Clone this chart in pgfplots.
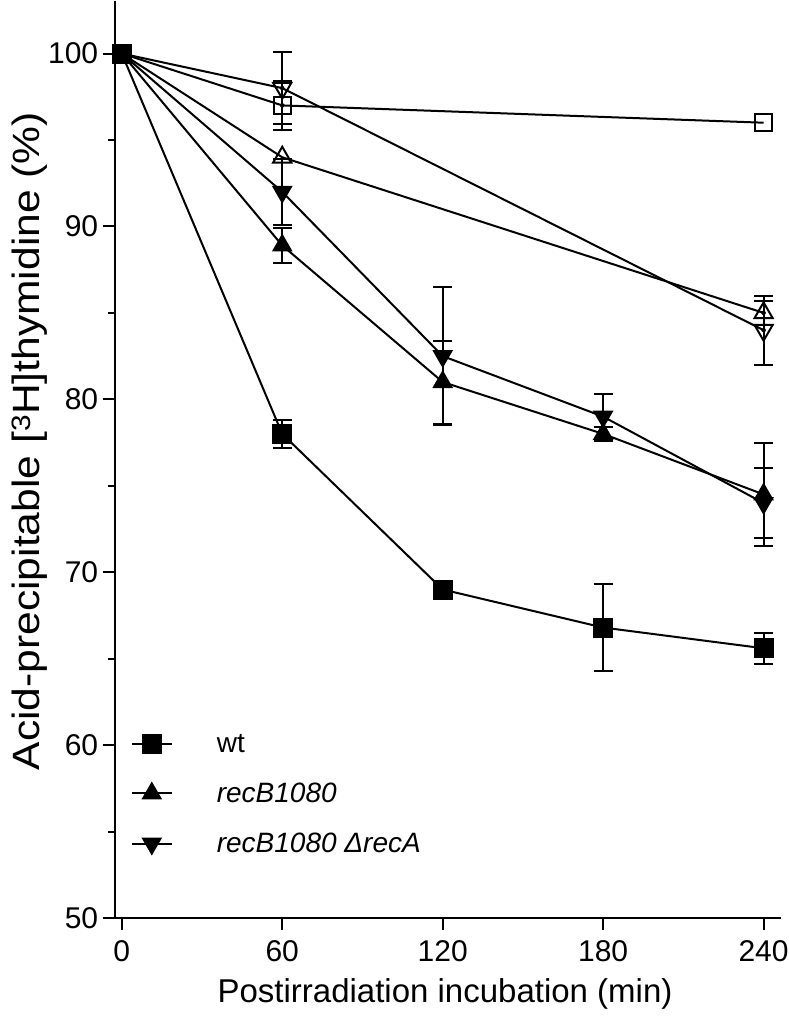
\documentclass[border=0pt]{standalone}
\usepackage{fontspec}
\setmainfont{Liberation Sans}
\usepackage{graphicx}
\usepackage{pgfplots}
\pgfplotsset{compat=1.18}
\usepackage{pgfplotstable}

\pgfplotstableread{
x y e
0 100 0
60 78 0.8
120 69 0.2
180 66.8 2.5
240 65.6 0.9
}\wt
\pgfplotstableread{
x y e
0 100 0
60 88.9 1.0
120 81 2.4
180 78 0.4
240 74.5 3.0
}\recB
\pgfplotstableread{
x y e
0 100 0
60 92 1.9
120 82.5 4.0
180 79 1.3
240 74.0 2.0
}\recBdA
\pgfplotstableread{
x y e
0 100 0
60 97 1.4
240 96 0
}\opensq
\pgfplotstableread{
x y e
0 100 0
60 94 0.5
240 85 0.7
}\openup
\pgfplotstableread{
x y e
0 100 0
60 98 2.1
240 84.0 2.0
}\opendown
% error-only tables (points with a visible error bar)
\pgfplotstableread{
x y e
60 78 0.8
180 66.8 2.5
240 65.6 0.9
}\wtE
\pgfplotstableread{
x y e
60 88.9 1.0
120 81 2.4
180 78 0.4
240 74.5 3.0
}\recBE
\pgfplotstableread{
x y e
60 92 1.9
120 82.5 4.0
180 79 1.3
240 74.0 2.0
}\recBdAE
\pgfplotstableread{
x y e
60 97 1.4
}\opensqE
\pgfplotstableread{
x y e
240 85 0.7
}\openupE
\pgfplotstableread{
x y e
60 98 2.1
240 84.0 2.0
}\opendownE

\begin{document}
\begin{tikzpicture}
\useasboundingbox (-114.7pt,-99pt) rectangle (674.3pt,918pt);
\begin{axis}[
  at={(0pt,0pt)}, anchor=south west,
  scale only axis, width=666pt, height=917pt,
  xmin=-2.65, xmax=246.4, ymin=50, ymax=103.04,
  axis x line*=bottom, axis y line*=left,
  axis line style={-, line width=2pt, black},
  xtick={0,60,120,180,240}, ytick={50,60,70,80,90,100},
  minor ytick={55,65,75,85,95},
  tick align=outside,
  major tick length=12pt, minor tick length=7pt,
  every tick/.style={line width=2pt, black},
  /pgf/number format/assume math mode=true,
  tick label style={font=\fontsize{30}{30}\selectfont},
  xticklabel style={yshift=-7pt},
  yticklabel style={xshift=-1pt},
  every axis y label/.style={at={(axis description cs:-0.128,0.52)}, rotate=90, anchor=center},
  every axis x label/.style={at={(axis description cs:0.496,0)}, anchor=center, yshift=-76pt},
  xlabel={\fontsize{33}{33}\selectfont Postirradiation incubation (min)},
  ylabel={\fontsize{38}{38}\selectfont\scalebox{1.12}[1]{Acid-precipitable [\textsuperscript{3}H]thymidine (\%)}},
  clip=false,
  legend image code/.code={\draw[mark repeat=2,mark phase=2,#1] plot coordinates {(0pt,0pt) (20pt,0pt) (40pt,0pt)};},
  legend style={at={(axis cs:3.3,60.75)}, anchor=north west, draw=none, fill=none,
    font=\fontsize{28}{28}\selectfont, row sep=25pt, inner sep=0pt,
    /tikz/every odd column/.append style={column sep=42pt}},
  legend cell align=left,
  ser/.style={black, line width=2pt, mark options={solid, line width=2pt}},
  ebar/.style={forget plot, only marks, mark=none, black,
    error bars/.cd, y dir=both, y explicit,
    error bar style={line width=2pt, black},
    error mark options={rotate=90, mark size=9.5pt, line width=2pt, black}},
]
\addlegendimage{ser, mark=square*, mark size=9pt}
\addlegendentry{wt}
\addlegendimage{ser, mark=triangle*, mark size=10pt}
\addlegendentry{\itshape recB1080}
\addlegendimage{ser, mark=triangle*, mark size=10pt, mark options={rotate=180}}
\addlegendentry{\itshape recB1080 ΔrecA}

% open series
\addplot[ser, forget plot, mark=square, mark size=8.5pt, mark indices={2,3}] table[x=x,y=y] {\opensq};
\addplot[ser, forget plot, mark=triangle, mark size=10.5pt, mark indices={2,3}] table[x=x,y=y] {\openup};
\addplot[ser, forget plot, mark=triangle, mark size=10.5pt, mark options={rotate=180}, mark indices={2,3}] table[x=x,y=y] {\opendown};
\addplot[ebar] table[x=x,y=y,y error=e] {\opensqE};
\addplot[ebar] table[x=x,y=y,y error=e] {\openupE};
\addplot[ebar] table[x=x,y=y,y error=e] {\opendownE};

% filled series
\addplot[ebar] table[x=x,y=y,y error=e] {\recBE};
\addplot[ebar] table[x=x,y=y,y error=e] {\recBdAE};
\addplot[ebar] table[x=x,y=y,y error=e] {\wtE};
\addplot[ser, forget plot, mark=triangle*, mark size=10pt, mark indices={2,3,4,5}] table[x=x,y=y] {\recB};
\addplot[ser, forget plot, mark=triangle*, mark size=10pt, mark options={rotate=180}, mark indices={2,3,4,5}] table[x=x,y=y] {\recBdA};
\addplot[ser, forget plot, mark=square*, mark size=9pt] table[x=x,y=y] {\wt};
\end{axis}
\end{tikzpicture}
\end{document}
